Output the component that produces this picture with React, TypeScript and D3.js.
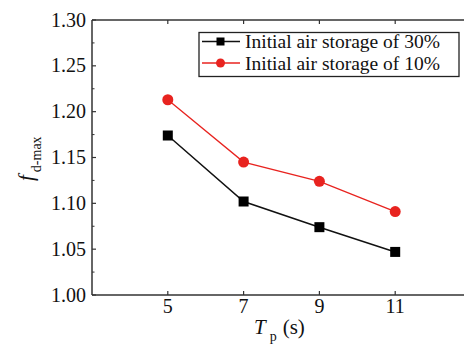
import React from "react";
import * as d3 from "d3";

// Wave period (s)
const periods = [5, 7, 9, 11];
// Maximum dynamic amplification factor, per initial air storage
const air30 = [1.174, 1.102, 1.074, 1.047];
const air10 = [1.213, 1.145, 1.124, 1.091];
const seriesNames = ["Initial air storage of 30%", "Initial air storage of 10%"];
const xTicks = [5, 7, 9, 11];
const yTicks = [1.0, 1.05, 1.1, 1.15, 1.2, 1.25, 1.3];

const W = 464;
const H = 344;
const FONT = "'Liberation Serif', 'Times New Roman', serif";
const RED = "#e8231f";
const AXIS = "#333";

export default function App() {
  const x = d3.scaleLinear().domain([3, 13]).range([92, 471]);
  const y = d3.scaleLinear().domain([1.0, 1.3]).range([295, 20]);
  const line = d3
    .line<number>()
    .x((_, i) => x(periods[i]))
    .y((d) => y(d));

  const minorY = d3.range(1.025, 1.3, 0.05);
  const [x0, x1] = x.range();
  const [yb, yt] = y.range();

  return (
    <svg
      width={W}
      height={H}
      style={{ position: "absolute", left: 0, top: 0, background: "#fff" }}
      fontFamily={FONT}
    >
      {/* axes frame */}
      <line x1={x0} x2={x1} y1={yb} y2={yb} stroke={AXIS} strokeWidth={1.5} />
      <line x1={x0} x2={x1} y1={yt} y2={yt} stroke={AXIS} strokeWidth={1.5} />
      <line x1={x0} x2={x0} y1={yt} y2={yb} stroke={AXIS} strokeWidth={1.5} />

      {/* y ticks */}
      {yTicks.map((t) => (
        <g key={t}>
          <line x1={x0} x2={x0 + 4} y1={y(t)} y2={y(t)} stroke={AXIS} strokeWidth={1.2} />
          <text x={x0 - 6} y={y(t)} dy="0.33em" textAnchor="end" fontSize={20} fill="#111">
            {t.toFixed(2)}
          </text>
        </g>
      ))}
      {minorY.map((t) => (
        <line key={t} x1={x0} x2={x0 + 2.5} y1={y(t)} y2={y(t)} stroke={AXIS} strokeWidth={1} />
      ))}

      {/* x ticks */}
      {xTicks.map((t) => (
        <g key={t}>
          <line x1={x(t)} x2={x(t)} y1={yb} y2={yb - 4} stroke={AXIS} strokeWidth={1.2} />
          <line x1={x(t)} x2={x(t)} y1={yt} y2={yt + 4} stroke={AXIS} strokeWidth={1.2} />
          <text x={x(t)} y={313} textAnchor="middle" fontSize={20} fill="#111">
            {t}
          </text>
        </g>
      ))}

      {/* axis titles */}
      <text x={254} y={334} fontSize={21} fill="#111">
        <tspan fontStyle="italic">T</tspan>
        <tspan fontSize={14} dy={7} dx={4}>p</tspan>
        <tspan dy={-7} dx={6}>(s)</tspan>
      </text>
      <text transform="translate(33,181) rotate(-90)" fontSize={21} fill="#111">
        <tspan fontStyle="italic">f</tspan>
        <tspan fontSize={14} dy={8} dx={3}>d-max</tspan>
      </text>

      {/* series */}
      <path d={line(air30) ?? ""} fill="none" stroke="#111" strokeWidth={1.5} />
      <path d={line(air10) ?? ""} fill="none" stroke={RED} strokeWidth={1.3} />
      {air30.map((v, i) => (
        <rect key={i} x={x(periods[i]) - 5} y={y(v) - 5} width={10} height={10} fill="#000" />
      ))}
      {air10.map((v, i) => (
        <circle key={i} cx={x(periods[i])} cy={y(v)} r={5.5} fill={RED} />
      ))}

      {/* legend */}
      <rect x={199} y={32.5} width={260} height={44} fill="#fff" stroke="#222" strokeWidth={1.3} />
      <line x1={202} x2={240} y1={41.5} y2={41.5} stroke="#111" strokeWidth={1.5} />
      <rect x={216.5} y={37.5} width={8} height={8} fill="#000" />
      <text x={245} y={47.5} fontSize={19.5} fill="#111">
        {seriesNames[0]}
      </text>
      <line x1={202} x2={240} y1={63} y2={63} stroke={RED} strokeWidth={1.3} />
      <circle cx={220.5} cy={63} r={4.5} fill={RED} />
      <text x={245} y={69.5} fontSize={19.5} fill="#111">
        {seriesNames[1]}
      </text>
    </svg>
  );
}
